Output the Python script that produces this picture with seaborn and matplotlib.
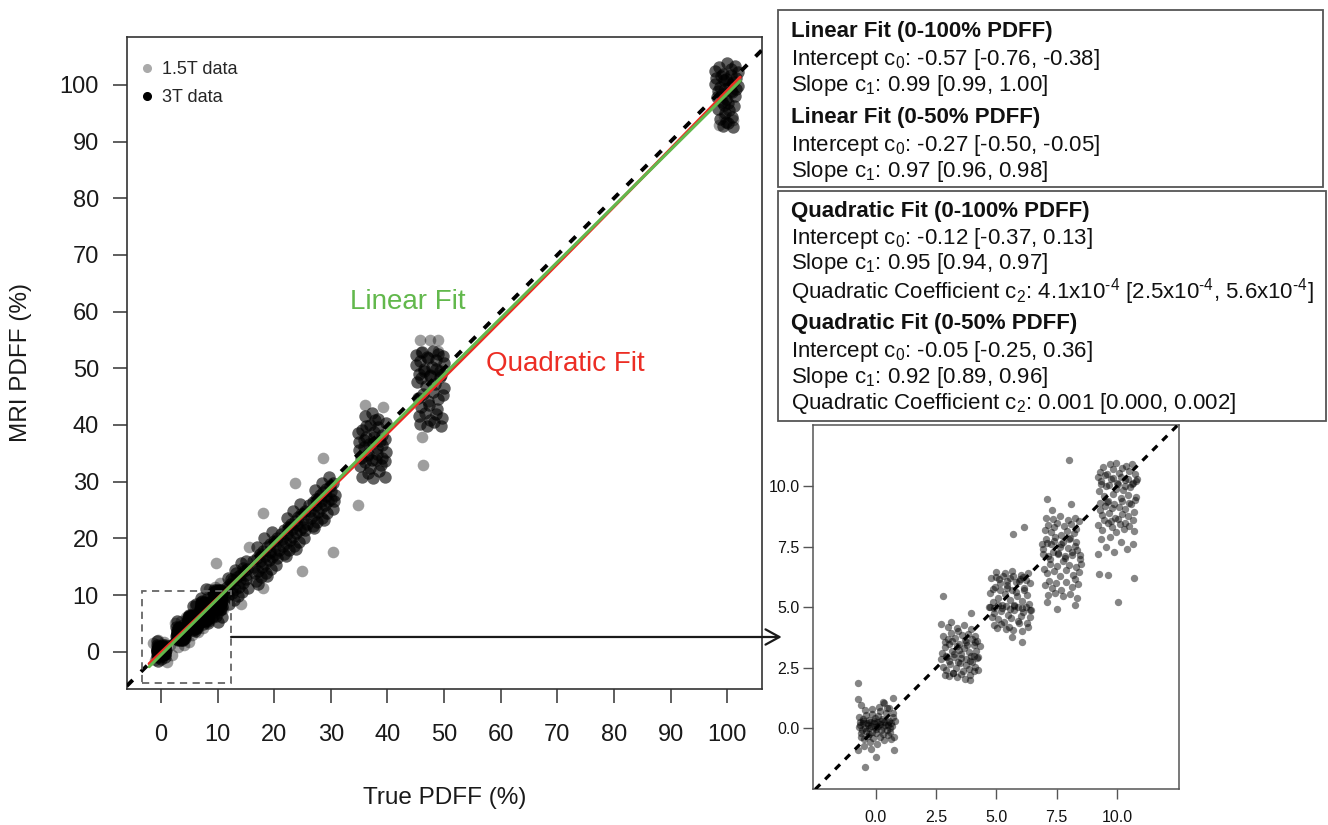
import numpy as np
import pandas as pd
import matplotlib
matplotlib.use("Agg")
import matplotlib.pyplot as plt
from matplotlib.lines import Line2D
from matplotlib.patches import Rectangle, ConnectionPatch
import seaborn as sns

# ---------------- data ----------------
# inset / 0-10 % region (3T data)
x_c0 = [-0.72,-0.65,-0.58,-0.52,-0.45,-0.40,-0.33,-0.28,-0.22,-0.15,-0.10,-0.05,0.02,0.08,0.15,0.22,0.30,0.38,0.45,0.52,0.60,0.68,
        -0.70,-0.55,-0.42,-0.30,-0.18,-0.05,0.10,0.25,0.40,0.55,0.70,
        -0.62,-0.48,-0.35,-0.25,-0.12,0.05,0.18,0.32,0.48,0.62,0.75,
        -0.76,-0.73,-0.73,-0.46,0.00,0.75,0.72,-0.60,0.35,0.55,-0.20,0.12,0.80,-0.50,0.28,
        -0.68,-0.52,-0.38,-0.24,-0.08,0.06,0.20,0.34,0.50,0.64,-0.60,-0.30,0.00,0.30,0.58,-0.45,-0.15,0.15,0.45,0.70]
y_c0 = [0.05,0.12,-0.05,0.20,0.02,-0.10,0.15,0.00,0.08,-0.15,0.22,0.05,-0.02,0.10,0.18,-0.08,0.05,0.12,-0.05,0.15,0.02,0.08,
        0.45,0.40,0.55,0.35,0.60,0.42,0.50,0.38,0.62,0.30,0.45,
        -0.35,-0.45,-0.30,-0.55,-0.40,-0.65,-0.35,-0.50,-0.28,-0.45,-0.38,
        1.89,1.20,-0.90,-1.58,-1.20,-0.90,1.24,0.95,1.05,0.85,-0.85,0.90,0.30,-0.75,1.10,
        0.25,0.30,0.22,0.28,0.32,0.26,0.30,0.24,0.28,0.20,-0.20,-0.25,-0.18,-0.22,-0.15,0.75,0.80,0.70,0.85,0.65]
x_c1 = [2.75,2.85,2.95,3.05,3.15,3.25,3.35,3.45,3.55,3.65,3.75,3.85,3.95,4.05,4.15,4.25,
        2.80,2.92,3.08,3.20,3.32,3.48,3.60,3.72,3.88,4.00,4.12,4.22,
        2.78,2.98,3.12,3.28,3.42,3.58,3.70,3.82,3.98,4.10,4.20,
        2.88,3.02,3.18,3.38,3.52,3.68,3.92,4.08,
        2.79,3.96,3.90,2.70,3.10,4.30,
        2.72,2.90,3.05,3.22,3.40,3.55,3.75,3.90,4.05,4.18,2.85,3.15,3.45,3.78,4.12,3.00,3.35,3.65,3.95]
y_c1 = [3.10,3.35,2.95,3.50,3.20,3.05,3.40,3.25,2.90,3.30,3.55,3.15,3.00,3.45,3.20,2.95,
        2.55,2.40,2.65,2.30,2.50,2.70,2.35,2.60,2.45,2.75,2.55,2.40,
        3.80,3.70,3.95,3.75,4.00,3.85,3.65,3.90,3.70,3.80,3.60,
        2.20,2.15,2.30,2.10,2.25,2.05,2.20,2.35,
        5.47,4.75,2.00,4.30,4.40,3.40,
        2.85,3.00,2.80,2.95,2.75,3.05,2.85,2.80,3.00,2.90,3.55,3.60,3.50,3.45,3.55,4.20,4.15,4.25,4.10]
x_c2 = [4.75,4.85,4.95,5.05,5.15,5.25,5.35,5.45,5.55,5.65,5.75,5.85,5.95,6.05,6.15,6.25,6.35,
        4.80,4.92,5.08,5.20,5.32,5.48,5.60,5.72,5.88,6.00,6.12,6.28,6.40,
        4.78,4.98,5.12,5.28,5.42,5.58,5.70,5.82,5.98,6.10,6.22,6.38,
        4.88,5.02,5.18,5.38,5.52,5.68,5.92,6.08,6.30,
        5.70,6.14,6.07,5.63,4.70,6.45,
        4.72,4.90,5.05,5.22,5.40,5.55,5.72,5.90,6.05,6.22,6.38,4.85,5.15,5.45,5.80,6.15,5.00,5.35,5.65,6.00,6.32]
y_c2 = [5.60,5.20,5.85,5.40,6.00,5.10,5.55,5.90,5.30,5.70,5.05,5.45,6.10,5.25,5.80,5.50,5.15,
        4.60,4.75,4.50,4.85,4.40,4.70,4.55,4.90,4.45,4.65,4.80,4.35,4.60,
        6.20,6.25,6.15,6.30,6.10,6.20,6.28,6.05,6.18,6.25,6.12,6.00,
        4.25,4.15,4.30,4.10,4.20,4.05,4.35,4.00,4.20,
        8.02,8.33,3.58,3.76,5.00,4.90,
        5.00,4.95,5.10,4.98,5.05,4.92,5.08,5.00,4.95,5.02,4.90,5.75,5.70,5.80,5.65,5.72,6.45,6.40,6.50,6.35,6.42]
x_c3 = [6.95,7.05,7.15,7.25,7.35,7.45,7.55,7.65,7.75,7.85,7.95,8.05,8.15,8.25,8.35,8.45,
        7.00,7.12,7.28,7.40,7.52,7.68,7.80,7.92,8.08,8.20,8.32,8.44,
        6.98,7.10,7.22,7.38,7.50,7.62,7.78,7.90,8.02,8.18,8.30,8.42,
        7.02,7.18,7.32,7.48,7.70,7.88,8.12,8.28,8.40,
        7.08,7.29,8.09,7.50,8.26,7.10,6.90,8.50,
        6.92,7.08,7.22,7.38,7.55,7.70,7.85,8.00,8.15,8.32,8.48,7.05,7.35,7.65,7.95,8.25,7.15,7.45,7.75,8.05,8.35]
y_c3 = [7.40,7.80,7.10,7.60,7.30,7.90,7.20,7.50,7.70,7.05,7.45,7.85,7.15,7.55,7.35,7.00,
        8.20,8.40,8.10,8.30,8.50,8.00,8.35,8.15,8.45,8.05,8.25,8.55,
        6.60,6.40,6.80,6.50,6.70,6.30,6.90,6.55,6.75,6.35,6.65,6.45,
        5.90,6.10,5.80,6.00,5.70,6.05,5.85,6.15,5.95,
        9.48,9.02,9.26,4.92,5.10,5.23,7.60,6.80,
        7.20,7.65,7.00,7.75,7.25,7.60,7.10,7.80,7.30,7.70,7.15,8.70,8.65,8.75,8.60,8.70,5.50,5.60,5.45,5.55,5.40]
x_c4 = [9.25,9.35,9.45,9.55,9.65,9.75,9.85,9.95,10.05,10.15,10.25,10.35,10.45,10.55,10.65,10.75,
        9.30,9.42,9.58,9.70,9.82,9.98,10.10,10.22,10.38,10.50,10.62,10.74,
        9.28,9.40,9.52,9.68,9.80,9.92,10.08,10.20,10.32,10.48,10.60,10.72,
        9.22,9.38,9.62,9.78,9.96,10.12,10.30,10.52,10.70,
        9.32,9.55,9.72,9.90,10.18,10.40,10.66,
        8.00,9.25,9.64,10.03,10.70,9.20,10.85,
        9.20,9.36,9.52,9.68,9.84,10.00,10.16,10.32,10.48,10.64,10.80,9.30,9.60,9.90,10.20,10.50,10.78,9.45,9.75,10.05,10.35,10.65]
y_c4 = [9.80,10.20,9.60,10.00,9.40,10.30,9.70,9.90,10.10,9.50,9.85,10.25,9.65,9.95,10.15,9.45,
        10.60,10.80,10.50,10.90,10.70,10.95,10.55,10.75,10.85,10.65,10.90,10.50,
        9.00,8.80,9.20,8.90,9.10,8.70,9.15,8.85,9.05,8.75,9.25,8.95,
        8.40,8.20,8.50,8.30,8.10,8.45,8.25,8.35,8.15,
        7.80,7.50,7.90,7.30,7.70,7.40,7.60,
        11.10,6.36,6.34,5.23,6.20,7.20,10.30,
        10.40,10.10,10.45,10.05,10.35,10.15,10.40,10.00,10.30,10.10,10.20,9.30,9.35,9.25,9.40,9.30,9.55,8.60,8.55,8.65,8.50,8.60]

# higher PDFF clusters (3T data)
x_c5 = [11.6,12.2,12.8,13.4,14.0,14.6,15.2,11.8,12.5,13.1,13.8,14.4,15.0,12.0,12.9,13.6,14.3,15.3,11.9,13.0,14.1,15.1,
        12.3,13.3,14.4,12.6,13.9,15.0,11.7]
y_c5 = [11.5,12.0,12.6,13.2,13.5,14.2,14.6,9.8,10.3,11.0,11.5,12.2,12.8,8.5,9.2,9.8,10.5,11.2,13.0,14.5,15.6,16.0,
        12.9,13.9,14.8,11.2,12.6,13.5,10.6]
x_c6 = [16.3,16.9,17.5,18.1,18.7,19.3,19.9,20.5,16.6,17.2,17.8,18.4,19.0,19.6,20.2,20.8,16.8,17.6,18.5,19.4,20.3,17.0,18.2,19.6,
        16.5,17.4,18.3,19.2,20.1,17.1,18.8,20.4]
y_c6 = [16.0,16.6,17.3,17.8,18.4,19.0,19.6,20.1,13.8,14.3,14.9,15.5,16.1,16.7,17.3,17.9,12.5,13.2,13.9,14.6,15.3,18.5,20.0,21.2,
        15.0,16.0,16.8,17.6,18.6,12.0,13.4,16.5]
x_c7 = [21.2,21.8,22.4,23.0,23.6,24.2,24.8,25.4,21.5,22.1,22.7,23.3,23.9,24.5,25.1,25.7,21.8,22.6,23.5,24.4,25.3,22.2,23.4,24.6,
        21.4,22.3,23.2,24.1,25.0,22.0,23.8,25.5]
y_c7 = [20.8,21.4,22.0,22.6,23.1,23.7,24.3,24.8,18.6,19.1,19.7,20.3,20.9,21.5,22.0,22.6,17.2,17.9,18.6,19.4,20.1,23.5,24.8,26.0,
        19.8,20.8,21.6,22.4,23.4,16.8,18.2,21.5]
x_c8 = [26.2,26.8,27.4,28.0,28.6,29.2,29.8,30.4,26.5,27.1,27.7,28.3,28.9,29.5,30.1,30.7,26.8,27.6,28.5,29.4,30.3,27.2,28.4,29.6,
        26.4,27.3,28.2,29.1,30.0,27.0,28.8,30.5]
y_c8 = [25.8,26.4,27.0,27.6,28.1,28.7,29.3,29.8,23.6,24.1,24.7,25.3,25.9,26.5,27.0,27.6,22.2,22.9,23.6,24.4,25.1,28.5,29.8,30.8,
        24.8,25.8,26.6,27.4,28.4,21.8,23.2,26.5]
x_c9 = [34.8,35.5,36.2,36.9,37.6,38.3,39.0,39.7,35.0,35.8,36.6,37.4,38.2,39.0,39.8,35.2,36.1,37.0,37.9,38.8,39.6,
        35.5,36.5,37.5,38.5,39.5,36.0,37.2,38.4,
        35.0,35.9,36.8,37.7,38.6,39.5,35.3,36.4,37.3,38.1,39.1,36.2,37.8]
y_c9 = [38.5,39.2,37.8,40.0,38.8,39.6,38.2,40.4,35.5,36.2,34.8,36.8,35.9,36.5,35.2,32.8,33.5,32.4,33.9,32.9,33.6,
        30.8,31.5,30.6,31.9,30.9,41.5,42.2,41.0,
        37.0,37.4,36.6,37.9,37.2,37.5,34.2,34.6,33.8,34.9,34.1,39.8,40.8]
x_c10 = [45.0,45.7,46.4,47.1,47.8,48.5,49.2,49.9,45.2,46.0,46.8,47.6,48.4,49.2,50.0,45.4,46.3,47.2,48.1,49.0,49.8,
         45.6,46.6,47.6,48.6,49.6,45.8,47.0,48.2,49.4,
         45.1,46.1,47.0,48.0,48.9,49.8,45.5,46.5,47.5,48.5,49.5,46.0,47.4,48.8]
y_c10 = [50.5,51.2,49.8,51.8,50.2,51.5,49.6,50.9,47.5,48.2,46.8,48.8,47.2,48.5,46.5,44.8,45.5,44.2,45.9,44.6,45.2,
         41.5,42.2,40.8,41.9,41.2,40.2,39.8,40.6,39.9,
         52.4,52.8,52.0,53.0,52.5,52.2,49.0,49.5,48.6,49.8,48.9,43.2,43.6,42.8]
x_c11 = [97.8,98.5,99.2,99.9,100.6,101.3,102.0,97.9,98.7,99.5,100.3,101.1,101.9,98.2,99.0,99.8,100.6,101.4,
         98.4,99.4,100.4,101.2,98.8,99.8,100.8,99.2,100.2,101.0,
         98.0,98.9,99.8,100.7,101.6,98.4,99.6,100.8,101.6,99.0,100.2,99.6]
y_c11 = [102.5,103.2,102.0,103.8,102.8,103.4,102.2,100.2,99.6,100.8,99.9,100.5,99.8,97.8,98.4,97.5,98.9,98.0,
         95.8,96.5,95.5,96.2,94.0,93.5,94.4,92.8,93.2,92.6,
         101.3,101.6,101.0,101.8,101.2,98.9,99.3,98.7,99.2,97.0,96.8,95.0]

# 1.5T data (grey points; the 0-10 % ones widen the low band)
x_15t = [9.8,15.6,18.0,23.7,28.7,24.9,30.4,18.1,14.1,46.3,45.8,47.5,48.9,46.0,49.0,46.1,34.8,39.2,36.0,98.5,101.0,99.5,
         -1.5,-0.5,0.5,1.5,-1.0,1.0,2.5,3.5,4.5,3.0,4.0,5.0,6.0,7.0,5.5,6.5,7.5,8.5,9.5,10.5,8.0,9.0,10.0,11.0,2.0,4.5,7.0,9.5]
y_15t = [15.6,18.5,24.4,29.7,34.1,14.3,17.6,11.2,8.5,32.9,55.0,55.0,55.0,52.9,53.0,37.9,25.9,43.2,43.5,93.0,93.8,94.5,
         1.5,2.0,1.8,1.2,-1.5,-1.8,5.0,5.5,6.2,0.8,1.2,1.8,8.0,8.6,3.0,3.5,4.2,11.0,11.5,12.2,5.5,6.0,6.8,7.5,-0.5,3.8,5.2,8.0]

# fit coefficients (0-100 % PDFF)
lin_c0, lin_c1 = -0.57, 0.99
quad_c0, quad_c1, quad_c2 = -0.12, 0.95, 4.1e-4
fit_range = [-2.1, 102.3]

x_ticks = [0, 10, 20, 30, 40, 50, 60, 70, 80, 90, 100]
y_ticks = [0, 10, 20, 30, 40, 50, 60, 70, 80, 90, 100]
inset_ticks = [0.0, 2.5, 5.0, 7.5, 10.0]
inset_ticklabels = ["0.0", "2.5", "5.0", "7.5", "10.0"]

HY = "\u2010"
box1_lines = [("Linear Fit (0-100% PDFF)", True),
              ("Intercept c$_0$: -0.57 [-0.76, -0.38]", False),
              ("Slope c$_1$: 0.99 [0.99, 1.00]", False),
              ("Linear Fit (0-50% PDFF)", True),
              ("Intercept c$_0$: -0.27 [-0.50, -0.05]", False),
              ("Slope c$_1$: 0.97 [0.96, 0.98]", False)]
box2_lines = [("Quadratic Fit (0-100% PDFF)", True),
              ("Intercept c$_0$: -0.12 [-0.37, 0.13]", False),
              ("Slope c$_1$: 0.95 [0.94, 0.97]", False),
              ("Quadratic Coefficient c$_2$: 4.1x10$^{" + HY + "4}$ [2.5x10$^{" + HY + "4}$, 5.6x10$^{" + HY + "4}$]", False),
              ("Quadratic Fit (0-50% PDFF)", True),
              ("Intercept c$_0$: -0.05 [-0.25, 0.36]", False),
              ("Slope c$_1$: 0.92 [0.89, 0.96]", False),
              ("Quadratic Coefficient c$_2$: 0.001 [0.000, 0.002]", False)]

# ---------------- build frames ----------------
inset_x = x_c0 + x_c1 + x_c2 + x_c3 + x_c4
inset_y = y_c0 + y_c1 + y_c2 + y_c3 + y_c4
df_inset = pd.DataFrame({"x": inset_x, "y": inset_y})
df_3t = pd.DataFrame({"x": inset_x + x_c5 + x_c6 + x_c7 + x_c8 + x_c9 + x_c10 + x_c11,
                      "y": inset_y + y_c5 + y_c6 + y_c7 + y_c8 + y_c9 + y_c10 + y_c11})
df_15t = pd.DataFrame({"x": x_15t, "y": y_15t})

xs = np.linspace(fit_range[0], fit_range[1], 200)
df_fit = pd.DataFrame({"x": xs,
                       "lin": lin_c0 + lin_c1 * xs,
                       "quad": quad_c0 + quad_c1 * xs + quad_c2 * xs ** 2})

# ---------------- style ----------------
sns.set_theme(style="ticks")
plt.rcParams['font.family'] = ['Liberation Sans', 'DejaVu Sans']
plt.rcParams['mathtext.default'] = 'regular'

W, H = 1328, 825
fig = plt.figure(figsize=(W / 100, H / 100), dpi=100)
fig.patch.set_facecolor("white")

def fx(px):
    return px / W

def fy(py):
    return 1 - py / H

GREEN = "#62b84c"
RED = "#ec2d24"

# ---------------- main axes ----------------
ax = fig.add_axes([fx(126.7), fy(689), (761.7 - 126.7) / W, (689 - 36.7) / H])
ax.set_xlim(-6.06, 106.1)
ax.set_ylim(-6.58, 108.5)

sns.scatterplot(data=df_15t, x="x", y="y", color="black", alpha=0.38, s=70,
                linewidth=0, ax=ax, legend=False, zorder=2)
sns.scatterplot(data=df_3t, x="x", y="y", color="black", alpha=0.62, s=80,
                linewidth=0, ax=ax, legend=False, zorder=3)
ax.axline((0, 0), slope=1, color="black", lw=2.8, ls=(0, (2.2, 3.0)), zorder=4)
sns.lineplot(data=df_fit, x="x", y="quad", color=RED, lw=2.2, ax=ax, zorder=5)
sns.lineplot(data=df_fit, x="x", y="lin", color=GREEN, lw=2.2, ax=ax, zorder=6)

ax.text(43.6, 61.7, "Linear Fit", color=GREEN, fontsize=20, ha="center", va="center")
ax.text(71.4, 50.8, "Quadratic Fit", color=RED, fontsize=20, ha="center", va="center")

ax.add_patch(Rectangle((-3.36, -5.47), 15.73, 16.23, fill=False, ec="#666666",
                       lw=1.3, ls=(0, (4, 3)), zorder=7))

ax.set_xticks(x_ticks)
ax.set_yticks(y_ticks)
ax.tick_params(axis="both", direction="out", length=10, width=1.1, color="#333333",
               labelcolor="#1a1a1a", labelsize=17, bottom=True, left=True)
ax.tick_params(axis="x", pad=15)
ax.tick_params(axis="y", pad=10)
for sp in ax.spines.values():
    sp.set_color("#333333")
    sp.set_linewidth(1.2)
    sp.set_visible(True)

ax.set_xlabel("True PDFF (%)", fontsize=17.5, color="#1a1a1a")
ax.set_ylabel("MRI PDFF (%)", fontsize=17.5, color="#1a1a1a")
ax.xaxis.set_label_coords(0.5, -(798 - 689) / (689 - 36.7))
ax.xaxis.label.set_va("center")
ax.yaxis.set_label_coords(-(126.7 - 21) / (761.7 - 126.7), 0.5)
ax.yaxis.label.set_va("center")

handles = [Line2D([], [], marker="o", ls="", color="#aaaaaa", markersize=5.5, label="1.5T data"),
           Line2D([], [], marker="o", ls="", color="black", markersize=5.5, label="3T data")]
ax.legend(handles=handles, loc="upper left", bbox_to_anchor=(0.017, 0.963), frameon=False,
          fontsize=13, handlelength=1.0, handletextpad=0.35, labelspacing=0.62,
          borderpad=0, borderaxespad=0)

# ---------------- inset axes ----------------
axi = fig.add_axes([fx(813.3), fy(789.3), 366 / W, (789.3 - 425) / H])
axi.set_xlim(-2.6, 12.59)
axi.set_ylim(-2.52, 12.53)
sns.scatterplot(data=df_inset, x="x", y="y", color="black", alpha=0.48, s=28,
                linewidth=0, ax=axi, legend=False, zorder=2)
axi.axline((0, 0), slope=1, color="black", lw=2.3, ls=(0, (2.2, 2.2)), zorder=3)
axi.set_xticks(inset_ticks)
axi.set_xticklabels(inset_ticklabels)
axi.set_yticks(inset_ticks)
axi.set_yticklabels(inset_ticklabels)
axi.tick_params(axis="both", direction="out", length=7, width=1.0, color="#555555",
                labelcolor="#111111", labelsize=11.5, bottom=True, left=True)
axi.tick_params(axis="x", pad=8)
axi.tick_params(axis="y", pad=3)
axi.set_xlabel("")
axi.set_ylabel("")
for sp in axi.spines.values():
    sp.set_color("#555555")
    sp.set_linewidth(1.1)
    sp.set_visible(True)

# arrow from zoom box to inset
con = ConnectionPatch(xyA=(12.37, 2.6), coordsA=ax.transData,
                      xyB=(-(813.3 - 781.7) / 366, (789.3 - 637) / (789.3 - 425)), coordsB=axi.transAxes,
                      arrowstyle="->,head_length=1.0,head_width=0.55", lw=1.6, color="#1a1a1a")
fig.add_artist(con)

# ---------------- text boxes ----------------
def draw_box(x0, y0, x1, y1):
    fig.add_artist(Rectangle((fx(x0), fy(y1)), (x1 - x0) / W, (y1 - y0) / H,
                             transform=fig.transFigure, fill=False, ec="#555555", lw=1.3))

draw_box(778, 10, 1323, 187)
draw_box(778, 191, 1326, 421)

box1_y = [32, 59, 86, 118, 145, 171]
box2_y = [212, 238, 264, 292, 324, 351, 377, 403]
for (txt, bold), yy in zip(box1_lines, box1_y):
    fig.text(fx(791), fy(yy), txt, fontsize=16, fontweight="bold" if bold else "normal",
             ha="left", va="center", color="#111111")
for (txt, bold), yy in zip(box2_lines, box2_y):
    fig.text(fx(791), fy(yy), txt, fontsize=16, fontweight="bold" if bold else "normal",
             ha="left", va="center", color="#111111")

fig.savefig("out.png", dpi=100)
